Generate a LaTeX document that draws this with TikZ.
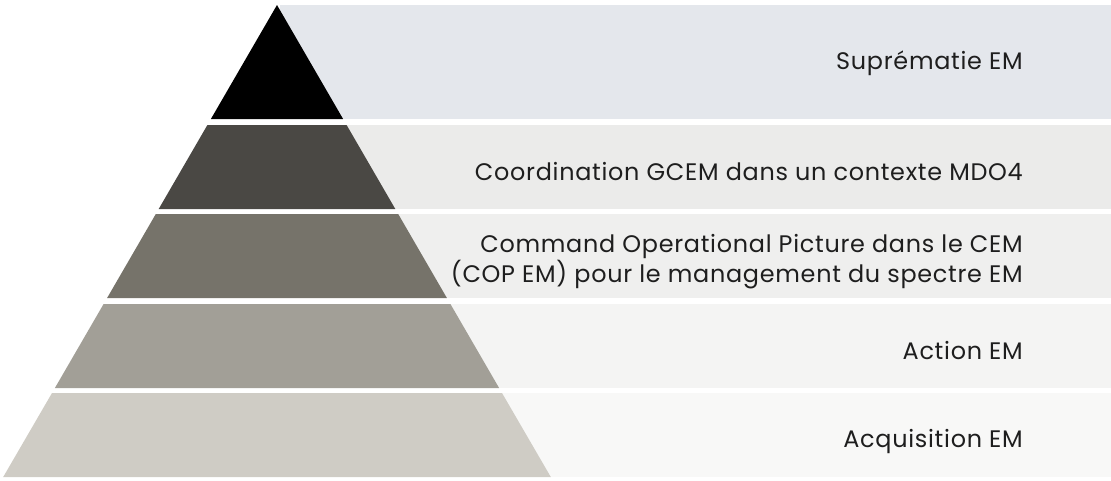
\documentclass[tikz,border=0pt]{standalone}
\usepackage{fontspec}
\setmainfont{Poppins}[LetterSpace=3.0]
\definecolor{bandA}{HTML}{E4E7EC}
\definecolor{bandB}{HTML}{EBEBEA}
\definecolor{bandC}{HTML}{EFEFEE}
\definecolor{bandD}{HTML}{F4F4F3}
\definecolor{bandE}{HTML}{F8F8F7}
\definecolor{layA}{HTML}{000000}
\definecolor{layB}{HTML}{4A4844}
\definecolor{layC}{HTML}{76736A}
\definecolor{layD}{HTML}{A29F97}
\definecolor{layE}{HTML}{CFCCC5}
\definecolor{txt}{HTML}{1E1E1E}
\begin{document}
\begin{tikzpicture}[
  x=0.025cm, y=-0.025cm,
  label/.style={anchor=east, align=right, text=txt, font=\fontsize{17}{21.5}\selectfont, inner sep=0pt}
]
\useasboundingbox (0,0) rectangle (1111,480);

% bands behind the pyramid
\fill[bandA] (280,5) rectangle (1111,119);
\fill[bandB] (280,125) rectangle (1111,209);
\fill[bandC] (280,214) rectangle (1111,298);
\fill[bandD] (280,304) rectangle (1111,388);
\fill[bandE] (280,393) rectangle (1111,477);

% pyramid layers
\fill[layA] (277,5) -- (343.1,119) -- (210.9,119) -- cycle;
\fill[layB] (207.4,125) -- (346.6,125) -- (395.3,209) -- (158.7,209) -- cycle;
\fill[layC] (155.8,214) -- (398.2,214) -- (446.9,298) -- (107.1,298) -- cycle;
\fill[layD] (103.6,304) -- (450.4,304) -- (499.1,388) -- (54.9,388) -- cycle;
\fill[layE] (52,393) -- (502,393) -- (550.8,477) -- (3.2,477) -- cycle;

% labels
\node[label] (supremacy) at (1023,63) {Suprématie EM};
\node[label] (coordination) at (1023,172) {Coordination GCEM dans un contexte MDO4};
\node[label] (cop) at (1023,262) {Command Operational Picture dans le CEM\\(COP EM) pour le management du spectre EM};
\node[label] (action) at (1023,351) {Action EM};
\node[label] (acquisition) at (1023,442) {Acquisition EM};
\end{tikzpicture}
\end{document}
